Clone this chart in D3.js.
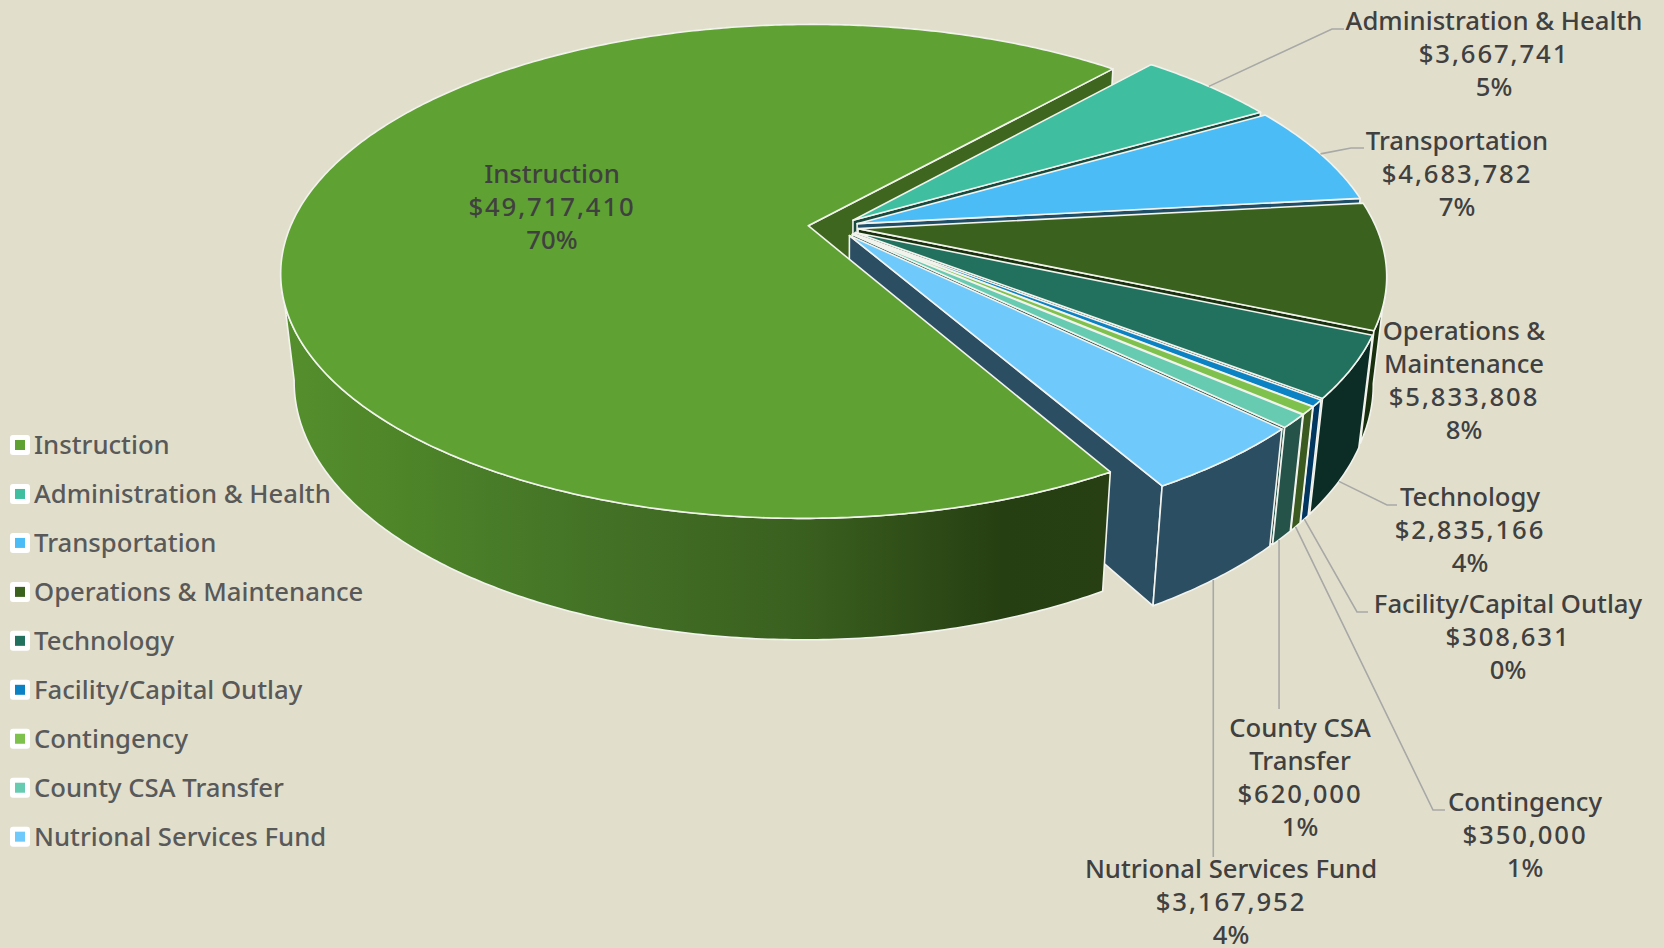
<!DOCTYPE html>
<html>
<head>
<meta charset="utf-8">
<title>Expenditures by category</title>
<script src="https://cdnjs.cloudflare.com/ajax/libs/d3/7.8.5/d3.min.js"></script>
<style>
  html, body { margin: 0; padding: 0; background: #e1dfcc; }
  svg { display: block; }
  text { font-family: "Noto Sans", "Open Sans", sans-serif; font-weight: 500; }
</style>
</head>
<body>
<svg id="chart" width="1664" height="948"></svg>
<script>
// Budget categories and amounts
const categories = ["Instruction", "Administration & Health", "Transportation", "Operations & Maintenance",
  "Technology", "Facility/Capital Outlay", "Contingency", "County CSA Transfer", "Nutrional Services Fund"];
const amounts = [49717410, 3667741, 4683782, 5833808, 2835166, 308631, 350000, 620000, 3167952];
const percentLabels = ["70%", "5%", "7%", "8%", "4%", "0%", "1%", "1%", "4%"];
const wrappedNames = [["Instruction"], ["Administration & Health"], ["Transportation"], ["Operations &", "Maintenance"],
  ["Technology"], ["Facility/Capital Outlay"], ["Contingency"], ["County CSA", "Transfer"], ["Nutrional Services Fund"]];

// Slice styling
const topColors = ["#5fa233", "#40bfa0", "#4bbcf6", "#3a611e", "#22705e", "#0a82c4", "#7ec24d", "#66cbb0", "#6fcafb"];
const wallColors = ["#3e661f", "#17493c", "#1f4e68", "#18300d", "#0c2d25", "#00365f", "#3a5a22", "#25534a", "#2c4e63"];
const explosions = [0.052, 0.045, 0.045, 0.045, 0.045, 0.045, 0.045, 0.045, 0.045];

// Label placement: centre x, first line centre y, leader elbow and leader end
const labelPlaces = [
  { x: 552, y: 174 },
  { x: 1494, y: 21, elbow: [1332, 29], end: [1344, 29] },
  { x: 1457, y: 141, elbow: [1351, 148], end: [1364, 148] },
  { x: 1464, y: 331 },
  { x: 1470, y: 497, elbow: [1387, 505], end: [1397, 505] },
  { x: 1508, y: 604, elbow: [1357, 612], end: [1368, 612] },
  { x: 1525, y: 802, elbow: [1433, 810], end: [1445, 810] },
  { x: 1300, y: 728, dropTo: 709, nudge: 0.008 },
  { x: 1231, y: 869, dropTo: 857, nudge: 0.008 }
];

// Perspective camera for the tilted pie
const cam = { cx: 835, cy: 227, a: 518, b: 239, e: 0.185, g: 0.024, c: 109 };
const firstSliceAngle = 150.1 * Math.PI / 180;
const lineHeight = 33;
// Range of angles whose rim faces the viewer
const rimFrom = Math.PI - Math.acos(cam.e), rimTo = Math.PI + Math.acos(cam.e);

function project(theta, r, offset, h) {
  const px = r * Math.sin(theta) + offset[0];
  const pz = -r * Math.cos(theta) + offset[1];
  const w = 1 - cam.e * pz + cam.g * h;
  return [cam.cx + cam.a * px / w, cam.cy + (cam.b * pz + cam.c * h) / w];
}

const svg = d3.select("#chart");
const line = d3.line();
const defs = svg.append("defs");
const grad = defs.append("linearGradient").attr("id", "instructionWall")
  .attr("gradientUnits", "userSpaceOnUse").attr("x1", 280).attr("x2", 1105).attr("y1", 0).attr("y2", 0);
[[0, "#558f2d"], [0.12, "#4f8729"], [0.34, "#457527"], [0.63, "#3a601f"], [0.875, "#263f12"], [1, "#273f12"]].forEach(s =>
  grad.append("stop").attr("offset", s[0]).attr("stop-color", s[1]));

const pie = d3.pie().sort(null).value(d => d).startAngle(firstSliceAngle).endAngle(firstSliceAngle + 2 * Math.PI);
const arcs = pie(amounts).map((d, i) => {
  // Slices past the top of the circle are brought back into a single turn
  const wrap = d.startAngle >= 2 * Math.PI ? 2 * Math.PI : 0;
  const start = d.startAngle - wrap, end = d.endAngle - wrap;
  const mid = (start + end) / 2;
  const off = [explosions[i] * Math.sin(mid), -explosions[i] * Math.cos(mid)];
  return { i, start, end, mid, off };
});

function arcPoints(s, from, to, h) {
  const n = Math.max(4, Math.ceil((to - from) / 0.01));
  return d3.range(n + 1).map(k => project(from + (to - from) * k / n, 1, s.off, h));
}
const outline = "#f3f3ee";

function shape(g, pts, fill) {
  g.append("path").attr("d", line(pts) + "Z")
    .attr("fill", fill).attr("stroke", outline).attr("stroke-width", 1.6).attr("stroke-linejoin", "round");
}
function drawEndWall(g, s) {
  shape(g, [project(0, 0, s.off, 0), project(s.end, 1, s.off, 0), project(s.end, 1, s.off, 1), project(0, 0, s.off, 1)], wallColors[s.i]);
}
function drawOuterWall(g, s, fill) {
  const from = Math.max(s.start, rimFrom), to = Math.min(s.end, rimTo);
  if (to <= from) return;
  shape(g, arcPoints(s, from, to, 0).concat(arcPoints(s, from, to, 1).reverse()), fill);
}
function drawTop(g, s) {
  shape(g, [project(0, 0, s.off, 0)].concat(arcPoints(s, s.start, s.end, 0)), topColors[s.i]);
}

const pieLayer = svg.append("g");
// The large slice's cut face sits behind everything else
drawEndWall(pieLayer, arcs[0]);
// Smaller slices, far to near
arcs.slice(1).forEach(s => {
  drawEndWall(pieLayer, s);
  drawOuterWall(pieLayer, s, wallColors[s.i]);
  drawTop(pieLayer, s);
});
// The large slice's rim and face go on last and overlap the neighbouring cut face
drawOuterWall(pieLayer, arcs[0], "url(#instructionWall)");
drawTop(pieLayer, arcs[0]);

// Leader lines
const leaders = svg.append("g").attr("fill", "none").attr("stroke", "#a8a8a6").attr("stroke-width", 1.6);
arcs.forEach(s => {
  const p = labelPlaces[s.i];
  if (p.elbow) {
    const front = Math.cos(s.mid) < 0;
    leaders.append("path").attr("d", line([project(s.mid, 1, s.off, front ? 1 : 0), p.elbow, p.end]));
  } else if (p.dropTo) {
    const st = project(s.mid + p.nudge, 1, s.off, 1);
    leaders.append("path").attr("d", line([st, [st[0], p.dropTo]]));
  }
});

// Data labels; the amount rows are spaced a little wider than the names
const labels = svg.append("g").attr("fill", "#404040").attr("font-size", 25.7).attr("text-anchor", "middle");
const money = d3.format("$,");
arcs.forEach(s => {
  const p = labelPlaces[s.i];
  const names = wrappedNames[s.i];
  names.concat([money(amounts[s.i]), percentLabels[s.i]]).forEach((t, k) => {
    labels.append("text").attr("x", p.x).attr("y", p.y + k * lineHeight + 9)
      .attr("letter-spacing", k === names.length ? 1.9 : null).text(t);
  });
});

// Legend
const legend = svg.append("g").selectAll("g").data(categories).join("g")
  .attr("transform", (d, i) => `translate(10,${435 + i * 48.96})`);
legend.append("rect").attr("width", 20).attr("height", 20).attr("rx", 3).attr("fill", "#ffffff");
legend.append("rect").attr("x", 5).attr("y", 5).attr("width", 10).attr("height", 10).attr("fill", (d, i) => topColors[i]);
legend.append("text").attr("x", 24).attr("y", 19).attr("font-size", 25.7).attr("fill", "#595959").text(d => d);
</script>
</body>
</html>
